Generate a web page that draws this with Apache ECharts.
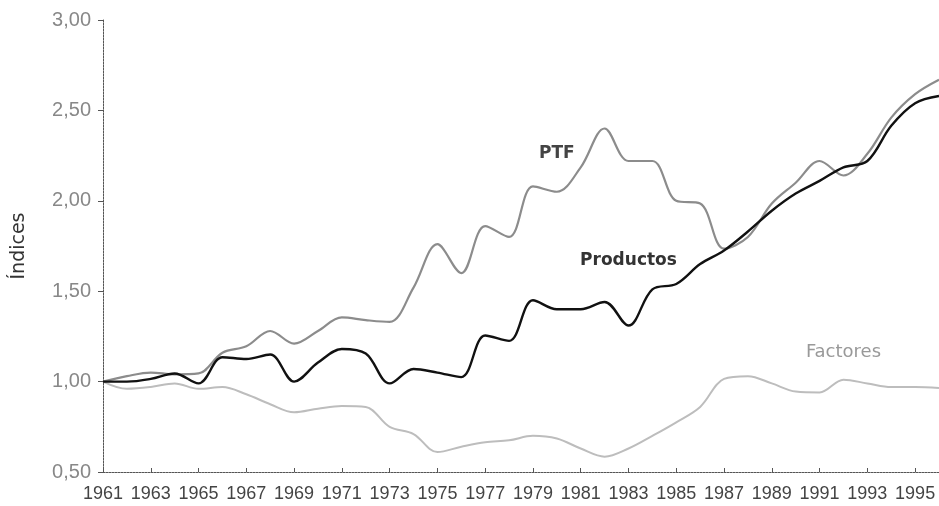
<!DOCTYPE html>
<html>
<head>
<meta charset="utf-8">
<script src="https://cdn.jsdelivr.net/npm/echarts@6/dist/echarts.min.js"></script>
<style>html,body{margin:0;padding:0;background:#fff}#c{width:939px;height:506px}</style>
</head>
<body>
<div id="c"></div>
<script>
var years = ['1961','1962','1963','1964','1965','1966','1967','1968','1969','1970','1971','1972','1973','1974','1975','1976','1977','1978','1979','1980','1981','1982','1983','1984','1985','1986','1987','1988','1989','1990','1991','1992','1993','1994','1995','1996'];
var ptf = [1.00,1.03,1.05,1.04,1.045,1.16,1.195,1.28,1.21,1.28,1.355,1.34,1.33,1.52,1.76,1.60,1.86,1.80,2.08,2.05,2.185,2.40,2.22,2.22,2.00,1.985,1.735,1.80,1.985,2.10,2.22,2.14,2.26,2.46,2.59,2.67];
var productos = [1.00,1.00,1.015,1.045,0.99,1.135,1.125,1.15,1.00,1.105,1.18,1.155,0.99,1.07,1.05,1.025,1.255,1.225,1.45,1.40,1.40,1.44,1.31,1.51,1.54,1.65,1.725,1.83,1.945,2.04,2.11,2.185,2.22,2.415,2.54,2.58];
var factores = [1.00,0.96,0.97,0.99,0.96,0.97,0.93,0.875,0.83,0.85,0.865,0.86,0.75,0.71,0.61,0.64,0.665,0.675,0.70,0.685,0.63,0.585,0.63,0.70,0.775,0.86,1.015,1.03,0.99,0.945,0.94,1.01,0.99,0.97,0.97,0.965];
var seriesNames = ['PTF','Productos','Factores'];
var yTicks = [0.5,1.0,1.5,2.0,2.5,3.0];
// label anchors in data space: [category index, value]
var labelAnchors = [[18.8,2.26],[21.7,1.67],[31.0,1.16]];

var chart = echarts.init(document.getElementById('c'));
var tickFont = '"Liberation Sans", Arial, sans-serif';
function mk(name, data, color, width, z){
  return {name:name, type:'line', data:data, smooth:0.35, symbol:'none', z:z,
    lineStyle:{color:color, width:width}};
}
function everyOther(i){ return i % 2 === 0 && i < years.length - 1; }
chart.setOption({
  animation:false,
  backgroundColor:'#fff',
  grid:{left:103, top:20, width:842, height:452},
  xAxis:{type:'category', data:years, boundaryGap:false,
    axisLine:{lineStyle:{color:'#555', width:1, type:[2,1]}},
    axisTick:{interval:everyOther, inside:true, length:4, lineStyle:{color:'#555'}},
    axisLabel:{interval:everyOther, hideOverlap:false, margin:13, color:'#444', fontSize:18, fontFamily:tickFont},
    splitLine:{show:false}},
  yAxis:{type:'value', min:yTicks[0], max:yTicks[yTicks.length-1], interval:0.5,
    name:'Índices', nameLocation:'middle', nameGap:74,
    nameTextStyle:{color:'#333', fontSize:19, fontFamily:'"DejaVu Sans", sans-serif'},
    axisLine:{show:true, lineStyle:{color:'#555', width:1, type:[2,1]}},
    axisTick:{show:true, length:5, lineStyle:{color:'#555'}},
    axisLabel:{margin:12, color:'#888', fontSize:20, fontFamily:tickFont,
      formatter:function(v){return v.toFixed(2).replace('.',',');}},
    splitLine:{show:false}},
  series:[
    mk(seriesNames[2], factores, '#bdbdbd', 2, 1),
    mk(seriesNames[0], ptf, '#8c8c8c', 2.2, 2),
    mk(seriesNames[1], productos, '#111', 2.4, 3)
  ]
});
var labelStyles = [
  {fill:'#444', font:'bold 17px "DejaVu Sans", sans-serif'},
  {fill:'#333', font:'bold 17px "DejaVu Sans", sans-serif'},
  {fill:'#999', font:'18px "DejaVu Sans", sans-serif'}
];
var g = labelAnchors.map(function(a, i){
  var p = chart.convertToPixel({gridIndex:0}, a);
  return {type:'text', x:p[0], y:p[1], z:10,
    style:{text:seriesNames[i], fill:labelStyles[i].fill, font:labelStyles[i].font, align:'center', verticalAlign:'middle'}};
});
chart.setOption({graphic:g});
</script>
</body>
</html>
